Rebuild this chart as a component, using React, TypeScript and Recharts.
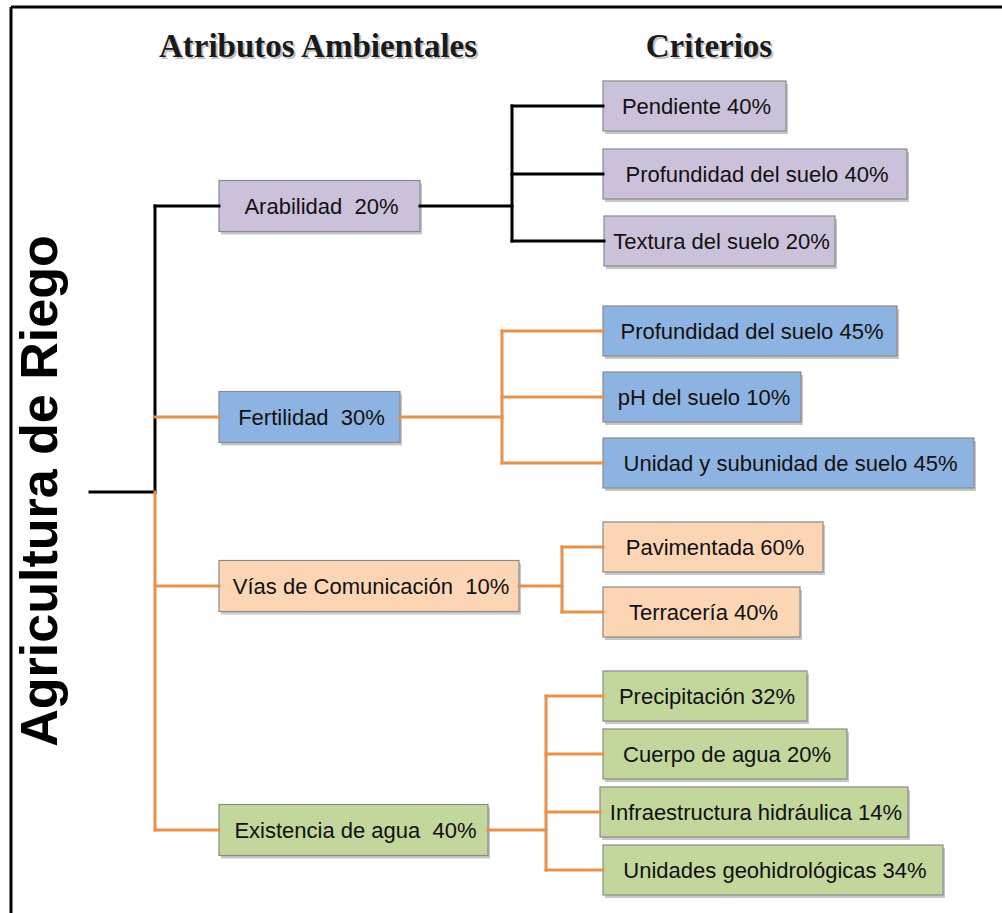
import React from 'react';
import { ComposedChart, XAxis, YAxis, ReferenceArea, ReferenceLine } from 'recharts';

// environmental attributes (level 1) and their weights
const attributes = ['Arabilidad', 'Fertilidad', 'Vías de Comunicación', 'Existencia de agua'];
const attributeWeights = [20, 30, 10, 40];

// criteria (level 2) for each attribute
const criteriaNames = [
  ['Pendiente', 'Profundidad del suelo', 'Textura del suelo'],
  ['Profundidad del suelo', 'pH del suelo', 'Unidad y subunidad de suelo'],
  ['Pavimentada', 'Terracería'],
  ['Precipitación', 'Cuerpo de agua', 'Infraestructura hidráulica', 'Unidades geohidrológicas'],
];
const criteriaWeights = [
  [40, 40, 20],
  [45, 10, 45],
  [60, 40],
  [32, 20, 14, 34],
];

const title = 'Agricultura de Riego';
const headers = ['Atributos Ambientales', 'Criterios'];

// layout (diagram units = pixels on a 1002 x 913 canvas)
const W = 1002;
const H = 913;
const ORANGE = '#e8914a';
const ROOT = { x1: 90, x2: 155, y: 492 };

const attrLayout = [
  { y: 206, x1: 219, x2: 420, fork: 512, fill: '#ccc1da', line: '#000000' },
  { y: 417, x1: 219, x2: 400, fork: 502, fill: '#8db3e2', line: ORANGE },
  { y: 586, x1: 219, x2: 519, fork: 562, fill: '#fcd5b5', line: ORANGE },
  { y: 830, x1: 219, x2: 488, fork: 546, fill: '#c3d69b', line: ORANGE },
];

const critLayout = [
  [{ y: 106, x1: 603, x2: 786 }, { y: 174, x1: 603, x2: 907 }, { y: 241, x1: 604, x2: 835 }],
  [{ y: 331, x1: 603, x2: 897 }, { y: 397, x1: 603, x2: 801 }, { y: 463, x1: 603, x2: 974 }],
  [{ y: 547, x1: 603, x2: 823 }, { y: 612, x1: 603, x2: 800 }],
  [{ y: 696, x1: 603, x2: 807 }, { y: 754, x1: 603, x2: 847 }, { y: 812, x1: 600, x2: 908 }, { y: 870, x1: 603, x2: 943 }],
];

type Seg = { x1: number; y1: number; x2: number; y2: number; color: string };

const segments: Seg[] = [];
// root stub + trunk
segments.push({ x1: ROOT.x1, y1: ROOT.y, x2: ROOT.x2, y2: ROOT.y, color: '#000000' });
segments.push({ x1: ROOT.x2, y1: attrLayout[0].y, x2: ROOT.x2, y2: ROOT.y, color: '#000000' });
segments.push({ x1: ROOT.x2, y1: ROOT.y, x2: ROOT.x2, y2: attrLayout[3].y, color: ORANGE });
attrLayout.forEach((a, i) => {
  const kids = critLayout[i];
  segments.push({ x1: ROOT.x2, y1: a.y, x2: a.x1, y2: a.y, color: a.line });
  segments.push({ x1: a.x2, y1: a.y, x2: a.fork, y2: a.y, color: a.line });
  segments.push({ x1: a.fork, y1: kids[0].y, x2: a.fork, y2: kids[kids.length - 1].y, color: a.line });
  kids.forEach((k) => {
    segments.push({ x1: a.fork, y1: k.y, x2: k.x1, y2: k.y, color: a.line });
  });
});

type Box = { x1: number; x2: number; y1: number; y2: number; fill: string; text: string };

const boxes: Box[] = [];
attributes.forEach((name, i) => {
  const a = attrLayout[i];
  boxes.push({ x1: a.x1, x2: a.x2, y1: a.y - 25.5, y2: a.y + 25.5, fill: a.fill, text: `${name}  ${attributeWeights[i]}%` });
  criteriaNames[i].forEach((c, j) => {
    const k = critLayout[i][j];
    boxes.push({ x1: k.x1, x2: k.x2, y1: k.y - 25, y2: k.y + 25, fill: a.fill, text: `${c} ${criteriaWeights[i][j]}%` });
  });
});

const boxShape = (b: Box) => (props: any) => {
  const { x, y, width, height } = props;
  return (
    <g>
      <rect x={x + 2} y={y + 3} width={width} height={height} fill="#000" fillOpacity={0.22} />
      <rect x={x} y={y} width={width} height={height} fill={b.fill} stroke="#8a8a8a" strokeWidth={1.2} />
      <text
        x={x + width / 2 + 2}
        y={y + height / 2 + 8}
        textAnchor="middle"
        fontFamily="'Liberation Sans', Arial, sans-serif"
        fontSize={22}
        fill="#111"
        style={{ whiteSpace: 'pre' }}
      >
        {b.text}
      </text>
    </g>
  );
};

const headerShape = (text: string) => (props: any) => {
  const { x, y, width, height } = props;
  const cx = x + width / 2;
  const by = y + height;
  const common = {
    textAnchor: 'middle' as const,
    fontFamily: "'Liberation Serif', 'Times New Roman', serif",
    fontWeight: 700,
    fontSize: 33,
  };
  return (
    <g>
      <text x={cx + 2} y={by + 2} {...common} fill="#000" fillOpacity={0.25}>{text}</text>
      <text x={cx} y={by} {...common} fill="#1a1a1a">{text}</text>
    </g>
  );
};

const titleShape = (props: any) => {
  const { x, y, width, height } = props;
  const bx = x + width;
  const cy = y + height / 2;
  return (
    <text
      x={bx}
      y={cy}
      transform={`rotate(-90 ${bx} ${cy})`}
      textAnchor="middle"
      fontFamily="'Liberation Sans', Arial, sans-serif"
      fontWeight={700}
      fontSize={52}
      fill="#000"
    >
      {title}
    </text>
  );
};

export default function App() {
  return (
    <div style={{ position: 'absolute', left: 0, top: 0, background: '#fff' }}>
      <ComposedChart width={W} height={H} margin={{ top: 0, right: 0, bottom: 0, left: 0 }} data={[]}>
        <XAxis type="number" dataKey="x" domain={[0, W]} hide allowDataOverflow />
        <YAxis type="number" dataKey="y" domain={[0, H]} reversed hide allowDataOverflow />

        {/* frame (top and left edges) */}
        <ReferenceLine segment={[{ x: 11, y: 7 }, { x: W, y: 7 }]} stroke="#000" strokeWidth={3} />
        <ReferenceLine segment={[{ x: 11, y: 7 }, { x: 11, y: H }]} stroke="#000" strokeWidth={3} />

        {segments.map((s, i) => (
          <ReferenceLine
            key={`s${i}`}
            segment={[{ x: s.x1, y: s.y1 }, { x: s.x2, y: s.y2 }]}
            stroke={s.color}
            strokeWidth={3}
            strokeLinecap="square"
          />
        ))}

        {boxes.map((b, i) => (
          <ReferenceArea key={`b${i}`} x1={b.x1} x2={b.x2} y1={b.y1} y2={b.y2} shape={boxShape(b)} />
        ))}

        <ReferenceArea x1={158} x2={478} y1={30} y2={57} shape={headerShape(headers[0])} />
        <ReferenceArea x1={646} x2={772} y1={30} y2={57} shape={headerShape(headers[1])} />
        <ReferenceArea x1={17} x2={57} y1={232} y2={750} shape={titleShape} />
      </ComposedChart>
    </div>
  );
}
